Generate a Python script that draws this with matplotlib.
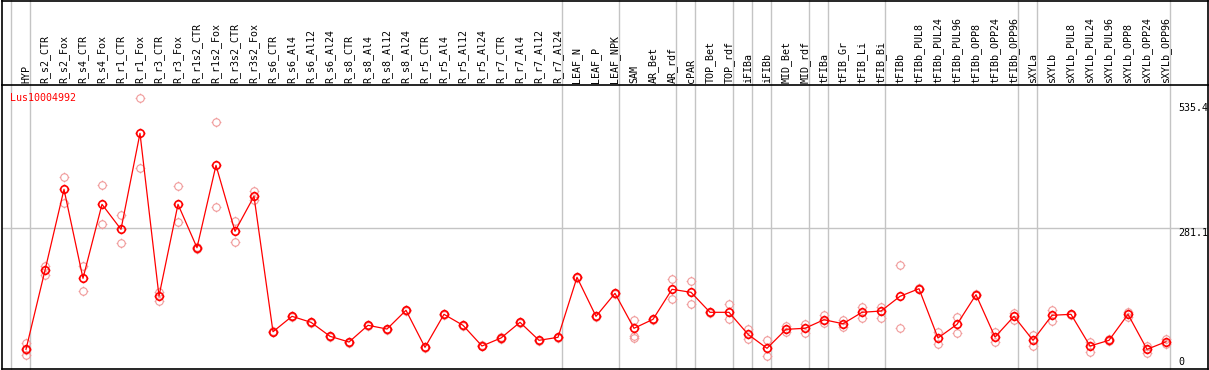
import matplotlib
matplotlib.use("Agg")
import matplotlib.pyplot as plt
import matplotlib.transforms as mtransforms
from matplotlib.path import Path
import numpy as np

# sample names (columns)
samples = ["HYP", "R_s2_CTR", "R_s2_Fox", "R_s4_CTR", "R_s4_Fox", "R_r1_CTR", "R_r1_Fox",
           "R_r3_CTR", "R_r3_Fox", "R_r1s2_CTR", "R_r1s2_Fox", "R_r3s2_CTR", "R_r3s2_Fox",
           "R_s6_CTR", "R_s6_Al4", "R_s6_Al12", "R_s6_Al24", "R_s8_CTR", "R_s8_Al4",
           "R_s8_Al12", "R_s8_Al24", "R_r5_CTR", "R_r5_Al4", "R_r5_Al12", "R_r5_Al24",
           "R_r7_CTR", "R_r7_Al4", "R_r7_Al12", "R_r7_Al24", "LEAF_N", "LEAF_P", "LEAF_NPK",
           "SAM", "AR_Bet", "AR_rdf", "cPAR", "TOP_Bet", "TOP_rdf", "iFIBa", "iFIBb",
           "MID_Bet", "MID_rdf", "tFIBa", "tFIB_Gr", "tFIB_Li", "tFIB_Bi", "tFIBb",
           "tFIBb_PUL8", "tFIBb_PUL24", "tFIBb_PUL96", "tFIBb_OPP8", "tFIBb_OPP24",
           "tFIBb_OPP96", "sXYLa", "sXYLb", "sXYLb_PUL8", "sXYLb_PUL24", "sXYLb_PUL96",
           "sXYLb_OPP8", "sXYLb_OPP24", "sXYLb_OPP96"]

# mean expression
mean_vals = [33.6, 194.7, 359.9, 178.4, 329.3, 278.3, 474.1, 142.3, 329.3, 240.8, 408.8,
             274.3, 345.6, 69.5, 100.9, 88.7, 60.2, 48.5, 82.6, 75.0, 113.2, 37.7, 105.0,
             82.6, 40.4, 56.7, 88.7, 52.0, 58.1, 180.5, 100.9, 147.8, 76.5, 94.8, 156.0,
             149.9, 109.1, 109.1, 64.2, 35.7, 74.4, 76.5, 94.0, 85.8, 109.1, 111.7, 141.7,
             157.2, 56.7, 84.6, 145.0, 58.7, 100.9, 52.0, 103.0, 105.0, 40.4, 52.0, 105.0,
             33.6, 49.1]

# replicate values
rep_hi = [45.9, 204.1, 384.4, 203.5, 368.1, 306.9, 545.5, 151.1, 366.0, 243.0, 497.1,
          294.7, 356.4, 71.0, 102.0, 90.0, 61.5, 49.5, 84.0, 76.0, 114.5, 39.0, 106.0,
          84.0, 41.5, 58.0, 90.0, 53.0, 59.5, 182.0, 102.0, 149.0, 92.8, 96.0, 176.4,
          172.3, 110.5, 125.4, 75.7, 52.0, 81.2, 85.2, 103.6, 92.8, 119.9, 119.9, 204.9,
          158.5, 68.3, 100.1, 146.5, 68.3, 108.3, 63.4, 113.8, 106.5, 49.1, 54.0, 110.3,
          41.0, 54.6]
rep_lo = [21.4, 184.5, 332.6, 152.5, 288.5, 249.8, 402.7, 132.7, 292.6, 238.0, 323.2,
          253.1, 338.1, 68.0, 99.5, 87.5, 59.0, 47.5, 81.0, 74.0, 112.0, 36.5, 104.0,
          81.0, 39.5, 55.5, 87.5, 51.0, 57.0, 179.0, 99.5, 146.5, 60.8, 93.5, 135.6,
          125.4, 108.0, 94.8, 55.3, 19.4, 68.3, 67.5, 87.3, 79.7, 98.1, 96.9, 76.5,
          156.0, 44.5, 66.3, 143.5, 49.1, 92.8, 41.0, 92.0, 103.5, 28.8, 50.0, 98.9,
          26.7, 44.5]
rep_extra = {32: 56.1, 0: 33.0}

# group separators: line drawn just right of these sample indices
sep_after = [-1, 0, 28, 31, 34, 35, 37, 38, 39, 41, 42, 45, 52, 53, 60]

gene = "Lus10004992"
grid_val = 281.1
tick_vals = [535.4, 281.1]

W, H = 1209, 370
fig = plt.figure(figsize=(W / 100, H / 100), dpi=100)

# plot area in pixel coords (from top-left)
px_l, px_r, px_t, px_b = 1.5, 1207.5, 85.3, 369.0
ax = fig.add_axes([px_l / W, (H - px_b) / H, (px_r - px_l) / W, (px_b - px_t) / H])

x = np.arange(len(samples))
ax.set_xlim(-1.289, 62.184)
ax.set_ylim(-6.5, 572.0)
ax.set_xticks([])
ax.set_yticks([])
for s in ax.spines.values():
    s.set_linewidth(1.2)
    s.set_color("black")

# circle marker with small notches
ring = Path.make_compound_path(
    Path.unit_circle(),
    Path([[0, 1], [0, 1.3], [0, -1], [0, -1.3], [1, 0], [1.3, 0], [-1, 0], [-1.3, 0]],
         [Path.MOVETO, Path.LINETO] * 4))

red = "#ff0000"
pink = "#f09a9a"
gray = "#c4c4c4"

# horizontal grid line
ax.axhline(grid_val, color=gray, lw=1.0, zorder=1)

# vertical separators spanning the label band as well
top_frac = px_b / (px_b - px_t)
for k in sep_after:
    ax.axvline(k + 0.23, ymin=0, ymax=top_frac, color=gray, lw=1.0, clip_on=False, zorder=1)

# replicates
ax.plot(x, rep_hi, ls="none", marker=ring, ms=7, mfc="none", mec=pink, mew=0.8, zorder=2)
ax.plot(x, rep_lo, ls="none", marker=ring, ms=7, mfc="none", mec=pink, mew=0.8, zorder=2)
ax.plot(list(rep_extra.keys()), list(rep_extra.values()), ls="none", marker=ring, ms=7,
        mfc="none", mec=pink, mew=0.8, zorder=2)

# mean line
ax.plot(x, mean_vals, color=red, lw=0.9, marker=ring, ms=7, mfc="none", mec=red,
        mew=1.2, zorder=3)

font = dict(family="DejaVu Sans Mono", fontsize=7.2)

# sample labels above the plot
lab_tr = mtransforms.blended_transform_factory(ax.transData, ax.transAxes)
for xi, name in zip(x, samples):
    ax.text(xi, 1 + 2 / (px_b - px_t), name, rotation=90, ha="center", va="bottom",
            transform=lab_tr, clip_on=False, **font)

# gene name
ax.text((10 - px_l) / (px_r - px_l), (px_b - 93) / (px_b - px_t), gene, color=red,
        ha="left", va="top", transform=ax.transAxes, **font)

# value labels on the right
val_tr = mtransforms.blended_transform_factory(ax.transAxes, ax.transData)
xr = (1178 - px_l) / (px_r - px_l)
for v in tick_vals:
    ax.text(xr, v, f"{v}", ha="left", va="top", transform=val_tr, **font)
ax.text(xr, (px_b - 365.3) / (px_b - px_t), "0", ha="left", va="baseline",
        transform=ax.transAxes, **font)

# outer frame around the label band
fig.add_artist(plt.Line2D([px_l / W, px_r / W], [1 - 0.6 / H, 1 - 0.6 / H],
                          color="black", lw=1.2))
fig.add_artist(plt.Line2D([px_r / W, px_r / W], [1 - px_t / H, 1], color="black", lw=1.2))
fig.add_artist(plt.Line2D([px_l / W, px_l / W], [1 - px_t / H, 1], color="black", lw=1.2))

fig.savefig("out.png", dpi=100)
